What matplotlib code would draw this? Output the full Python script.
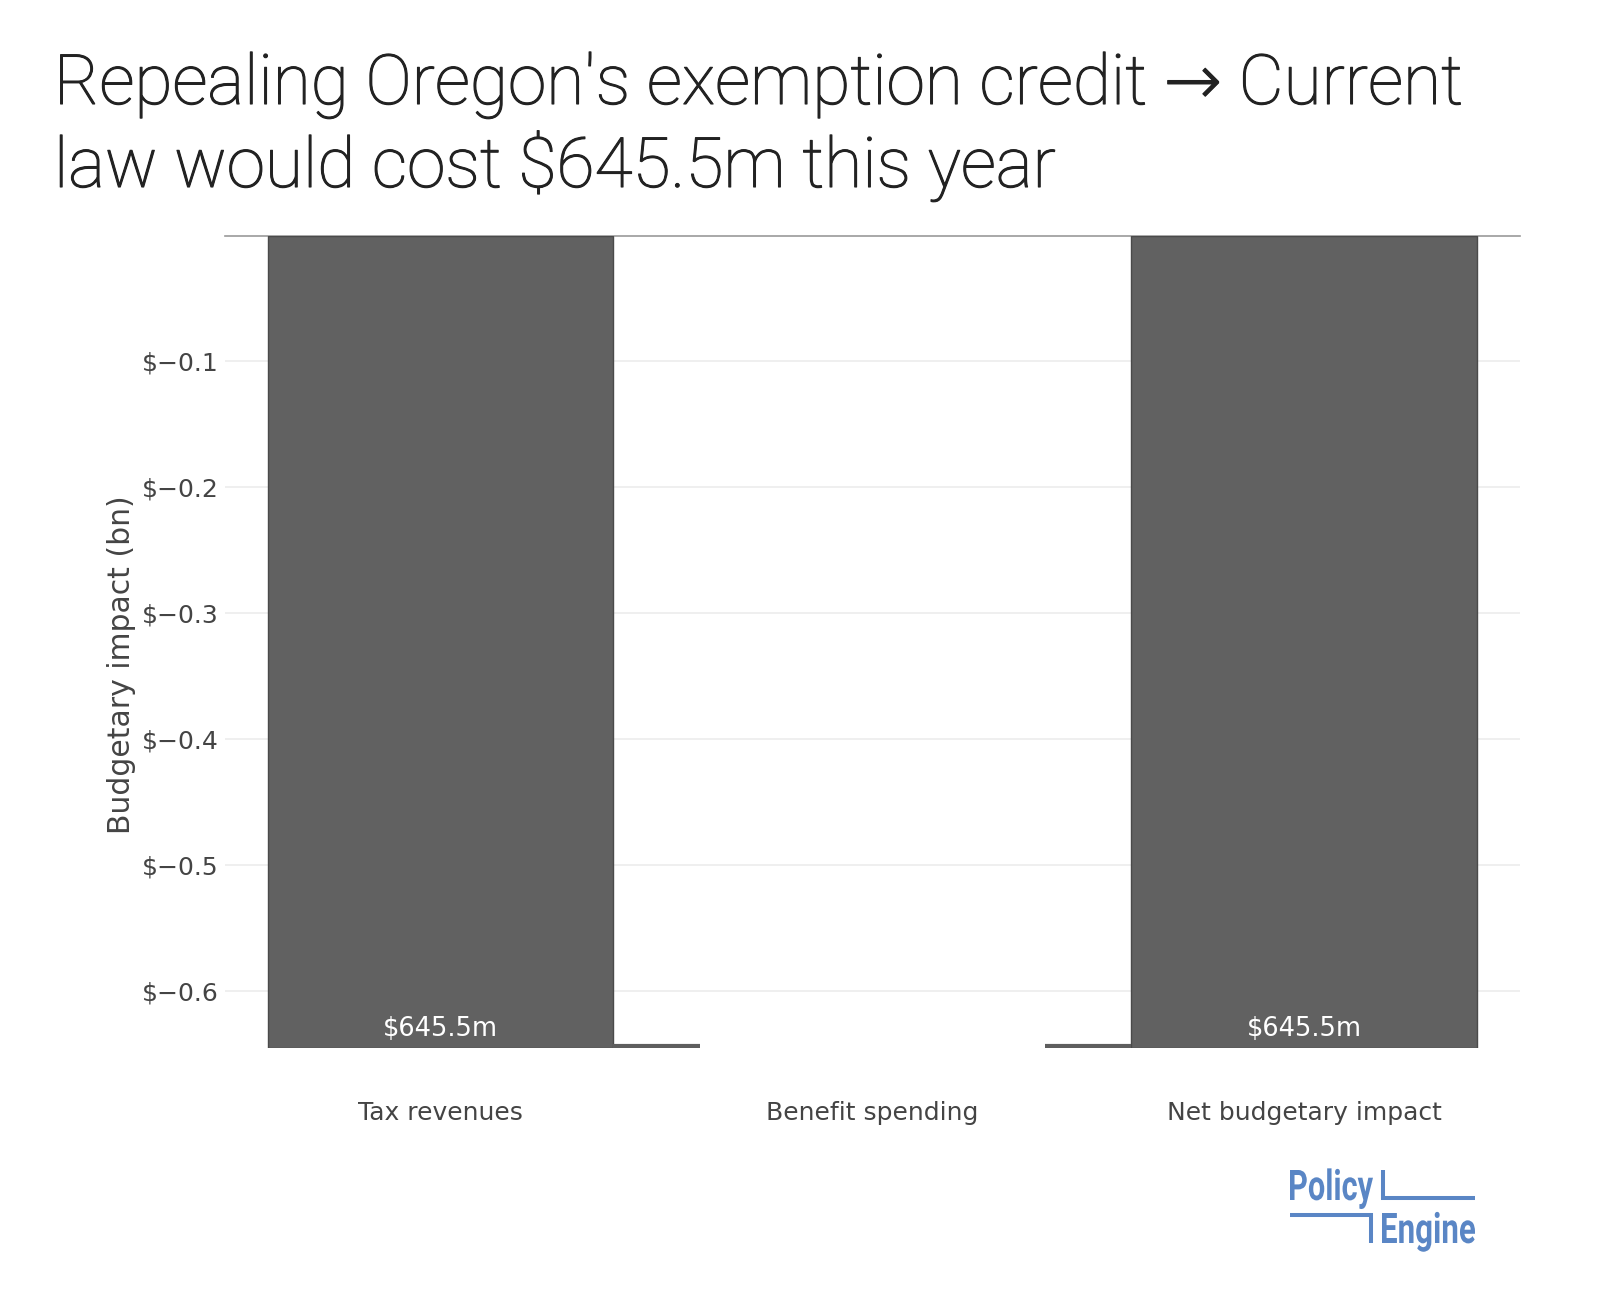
import matplotlib.pyplot as plt
from matplotlib.lines import Line2D
from matplotlib.ticker import FuncFormatter
from matplotlib.textpath import TextPath
from matplotlib.patches import PathPatch
from matplotlib.font_manager import FontProperties
from matplotlib.transforms import Affine2D, IdentityTransform, ScaledTranslation
import matplotlib.patheffects as pe

categories = ["Tax revenues", "Benefit spending", "Net budgetary impact"]
values = [-0.6455, 0.0, None]          # None = total bar
measures = ["relative", "relative", "total"]
bar_labels = ["$645.5m", "", "$645.5m"]
yticks = [-0.1, -0.2, -0.3, -0.4, -0.5, -0.6]

W, H = 1600, 1311
fig = plt.figure(figsize=(W / 100, H / 100), dpi=100)

# axes placed in pixel terms of the reference
left, right, top, bottom = 224.5, 1520, 235.5, 1048
ax = fig.add_axes([left / W, 1 - bottom / H, (right - left) / W, (bottom - top) / H])

bar_color = "#616161"
# waterfall: work out where each bar starts and ends
starts, ends = [], []
running = 0.0
for v, m in zip(values, measures):
    if m == "total":
        starts.append(0.0)
        ends.append(running)
    else:
        starts.append(running)
        running += v
        ends.append(running)

x = list(range(len(categories)))
bw = 0.8
for i in x:
    h = ends[i] - starts[i]
    ax.bar(i, h, bottom=starts[i], width=bw, color=bar_color,
           edgecolor="#4a4a4a" if h != 0 else "none", linewidth=1, zorder=2)
    if bar_labels[i]:
        ax.annotate(bar_labels[i], xy=(i, ends[i]), xytext=(0, 14),
                    textcoords="offset points", ha="center", va="center",
                    color="white", fontsize=18.5, family="DejaVu Sans", zorder=4)

# connectors between bars, nudged up so their lower edge meets the bar bottoms
lift = ScaledTranslation(0, 1.5 / 72, fig.dpi_scale_trans)
for i in range(len(x) - 1):
    ax.plot([i + bw / 2, i + 1 - bw / 2], [ends[i], ends[i]], color="#5e5e5e", lw=3.0,
            solid_capstyle="butt", transform=ax.transData + lift, zorder=3)

ax.set_xlim(-0.5, len(categories) - 0.5)
ax.set_ylim(-0.6455, 0)
ax.set_yticks(yticks)
ax.yaxis.set_major_formatter(FuncFormatter(lambda v, p: "$" + f"{v:.1f}".replace("-", "\u2212")))
ax.set_xticks(x)
ax.set_xticklabels(categories)
ax.tick_params(axis="both", length=0, labelsize=18, labelcolor="#444444")
ax.tick_params(axis="y", pad=4)
ax.tick_params(axis="x", pad=38)
for s in ax.spines.values():
    s.set_visible(False)
ax.grid(axis="y", color="#eeeeee", lw=1.3)
ax.set_axisbelow(True)
ax.axhline(0, color="#9a9a9a", lw=1.2, clip_on=False, zorder=1)

fig.text(122 / W, 1 - 665 / H, "Budgetary impact (bn)", rotation=90, ha="center", va="center",
         fontsize=21.5, color="#444444")

# title
title_font = dict(family=["Roboto", "DejaVu Sans"], weight="light", fontsize=50, color="#222222",
                  path_effects=[pe.withStroke(linewidth=0.8, foreground="#222222")])
fig.text(54 / W, 1 - 104 / H, "Repealing Oregon's exemption credit \u2192 Current", va="baseline", **title_font)
fig.text(54 / W, 1 - 187 / H, "law would cost $645.5m this year", va="baseline", **title_font)

# PolicyEngine logo: bold type squeezed to look condensed
blue = "#5a86c5"
logo_fp = FontProperties(family="Roboto", weight="bold")


def logo_word(word, x0, x1, cap_top, baseline):
    tp = TextPath((0, 0), word, size=100, prop=logo_fp)
    cap = TextPath((0, 0), "E", size=100, prop=logo_fp).get_extents()
    ext = tp.get_extents()
    sx = (x1 - x0) / ext.width
    sy = (baseline - cap_top) / cap.y1
    tr = Affine2D().translate(-ext.x0, 0).scale(sx, sy).translate(x0, H - baseline)
    fig.add_artist(PathPatch(tr.transform_path(tp), facecolor=blue, edgecolor="none",
                             transform=IdentityTransform()))


logo_word("Policy", 1290, 1373, 1170, 1200)
logo_word("Engine", 1382, 1475, 1213, 1243)
segs = [
    ((1383, 1383), (1170, 1199)),
    ((1381, 1475), (1198, 1198)),
    ((1290, 1373), (1215, 1215)),
    ((1371, 1371), (1213, 1243)),
]
for xs, ys in segs:
    fig.add_artist(Line2D([v / W for v in xs], [1 - v / H for v in ys], color=blue, lw=2.9,
                          solid_capstyle="butt", transform=fig.transFigure))

fig.savefig("out.png", dpi=100)
